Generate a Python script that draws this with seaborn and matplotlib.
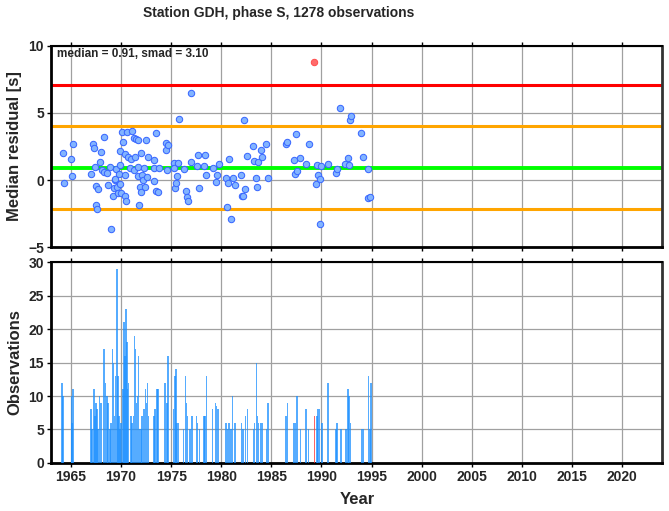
import numpy as np
import pandas as pd
import matplotlib
matplotlib.use('Agg')
import matplotlib.pyplot as plt
import seaborn as sns

# station summary
station = 'GDH'
phase = 'S'
n_obs = 1278
median = 0.91
smad = 3.10

# median residual per time bin (decimal year, seconds)
res_year = [1964.2, 1964.3, 1965.0, 1965.1, 1965.2, 1967.0, 1967.2, 1967.3, 1967.4, 1967.5,
            1967.5, 1967.55, 1967.7, 1967.9, 1968.0, 1968.1, 1968.3, 1968.3, 1968.6, 1968.7,
            1968.9, 1969.0, 1969.2, 1969.3, 1969.4, 1969.4, 1969.5, 1969.6, 1969.7, 1969.8,
            1969.9, 1969.9, 1969.9, 1970.0, 1970.1, 1970.2, 1970.4, 1970.4, 1970.4, 1970.5,
            1970.6, 1970.7, 1970.9, 1971.0, 1971.1, 1971.3, 1971.3, 1971.4, 1971.5, 1971.7,
            1971.7, 1971.7, 1971.8, 1971.9, 1972.0, 1972.0, 1972.1, 1972.2, 1972.3, 1972.4,
            1972.5, 1972.6, 1972.7, 1973.3, 1973.3, 1973.3, 1973.5, 1973.5, 1973.7, 1973.8,
            1974.5, 1974.5, 1974.6, 1974.7, 1975.3, 1975.3, 1975.4, 1975.5, 1975.6, 1975.7,
            1975.8, 1976.3, 1976.5, 1976.6, 1976.7, 1977.0, 1977.0, 1977.6, 1977.7, 1977.8,
            1978.3, 1978.4, 1978.5, 1979.2, 1979.5, 1979.6, 1979.8, 1980.5, 1980.6, 1980.7,
            1980.8, 1981.0, 1981.2, 1981.4, 1982.0, 1982.1, 1982.2, 1982.3, 1982.4, 1982.6,
            1983.2, 1983.3, 1983.5, 1983.6, 1983.7, 1984.0, 1984.1, 1984.5, 1984.7, 1986.5,
            1986.6, 1987.3, 1987.4, 1987.5, 1987.6, 1987.9, 1988.5, 1988.8, 1989.3, 1989.5,
            1989.6, 1989.7, 1989.9, 1989.9, 1990.0, 1990.7, 1991.5, 1991.6, 1991.9, 1992.4,
            1992.7, 1992.8, 1992.9, 1993.0, 1994.0, 1994.2, 1994.7, 1994.7, 1994.9]
res_value = [2.0, -0.2, 1.6, 0.3, 2.7, 0.45, 2.7, 2.4, 0.95, -0.42,
             -1.9, -2.15, -0.67, 1.37, 2.06, 0.75, 3.2, 0.62, 0.52, -0.37,
             0.97, -3.63, -1.17, -0.57, 0.0, 0.07, 0.8, -0.5, -1.0, 0.45,
             -0.28, 1.14, 2.19, -1.0, 3.6, 2.86, 1.92, 0.4, -1.2, -1.6,
             3.56, 1.69, 0.87, 1.59, 3.68, 3.16, 0.72, 1.74, 3.04, 2.99,
             0.99, 0.28, -1.84, -0.52, 2.04, -0.87, 0.4, 0.0, 0.9, -0.5,
             2.99, 0.2, 1.74, 1.49, 0.92, -0.07, 3.53, -0.84, -0.87, 0.92,
             2.76, 2.21, 0.72, 2.61, 1.29, 0.92, -0.62, -0.25, 0.32, 1.29,
             4.53, 0.84, -0.8, -1.24, -1.57, 1.34, 6.51, 1.02, 1.84, -0.62,
             1.04, 1.84, 0.37, 0.92, -0.17, 0.37, 1.19, 0.17, -2.04, -0.22,
             1.59, -2.91, 0.17, -0.37, 0.37, -1.22, -1.17, 4.48, -0.7, 1.81,
             2.56, 1.42, 0.13, -0.5, 1.37, 2.21, 1.74, 2.71, 0.17, 2.66,
             2.81, 1.47, 0.47, 3.43, 0.69, 1.66, 1.22, 2.66, 8.81, -0.3,
             1.14, 0.4, 0.07, -3.28, 1.07, 1.22, 0.54, 0.84, 5.37, 1.19,
             1.64, 1.14, 4.46, 4.78, 3.53, 1.74, 0.84, -1.34, -1.24]

# number of observations per time bin
obs_year = [1964.13, 1964.23, 1965.03, 1965.1, 1965.17, 1966.97, 1967.07, 1967.3, 1967.4, 1967.5,
            1967.6, 1967.7, 1967.83, 1968.0, 1968.3, 1968.43, 1968.57, 1968.67, 1968.9, 1969.0,
            1969.13, 1969.23, 1969.33, 1969.43, 1969.57, 1969.67, 1969.77, 1969.9, 1970.0, 1970.17,
            1970.27, 1970.37, 1970.47, 1970.57, 1970.63, 1970.73, 1970.97, 1971.1, 1971.23, 1971.33,
            1971.43, 1971.53, 1971.63, 1971.73, 1971.83, 1971.97, 1972.07, 1972.23, 1972.33, 1972.43,
            1972.53, 1972.63, 1972.73, 1973.3, 1973.4, 1973.57, 1973.67, 1974.37, 1974.57, 1974.67,
            1975.23, 1975.37, 1975.47, 1975.57, 1975.73, 1976.23, 1976.43, 1976.53, 1976.63, 1976.87,
            1977.07, 1977.53, 1977.63, 1977.83, 1978.27, 1978.4, 1978.53, 1979.13, 1979.43, 1979.53,
            1979.67, 1980.47, 1980.63, 1980.77, 1981.0, 1981.13, 1981.4, 1982.03, 1982.17, 1982.43,
            1982.63, 1983.2, 1983.33, 1983.53, 1983.63, 1983.73, 1983.97, 1984.13, 1984.5, 1984.67,
            1986.47, 1986.6, 1987.27, 1987.43, 1987.57, 1987.93, 1988.47, 1988.73, 1989.3, 1989.53,
            1989.67, 1989.8, 1990.07, 1990.67, 1991.43, 1991.57, 1991.93, 1992.47, 1992.67, 1992.77,
            1992.9, 1994.03, 1994.2, 1994.7, 1994.83, 1994.97]
obs_count = [12, 10, 10, 6, 11, 8, 5, 11, 7, 9,
             8, 5, 10, 9, 17, 12, 10, 9, 5, 6,
             17, 15, 7, 13, 29, 13, 7, 5, 6, 11,
             21, 16, 23, 18, 11, 12, 7, 6, 7, 19,
             17, 9, 10, 16, 5, 5, 7, 8, 8, 11,
             9, 12, 7, 7, 8, 11, 11, 12, 9, 16,
             8, 13, 14, 6, 6, 5, 13, 9, 7, 5,
             7, 7, 6, 5, 7, 7, 13, 8, 9, 8.5,
             8, 6, 5, 6, 5, 10, 6, 6, 5, 7,
             8, 5, 6, 15, 7, 6, 6, 6, 5, 9,
             7, 9, 6, 6, 10, 5, 8, 5, 7, 7,
             8, 8, 6, 12, 5, 6, 5, 5, 11, 10,
             6, 5, 5, 13, 5, 12]

res = pd.DataFrame({'year': res_year, 'residual': res_value})
res['outlier'] = res['residual'] > median + 2 * smad
obs = pd.DataFrame({'year': obs_year, 'count': obs_count})

sns.set_theme(style='ticks')
plt.rcParams['font.family'] = ['Liberation Sans', 'DejaVu Sans']
plt.rcParams['font.weight'] = 'bold'
plt.rcParams['axes.labelweight'] = 'bold'

fig = plt.figure(figsize=(6.69, 5.11), dpi=100)
ax1 = fig.add_axes([0.0762, 0.5166, 0.9133, 0.3934])
ax2 = fig.add_axes([0.0762, 0.094, 0.9133, 0.393])

xticks = np.arange(1965, 2021, 5)
for ax in (ax1, ax2):
    ax.set_xlim(1963, 2024)
    ax.set_xticks(xticks)
    ax.grid(True, color='#a0a0a0', lw=0.9)
    ax.set_axisbelow(True)
    ax.tick_params(axis='both', direction='out', length=3, width=1, labelsize=10,
                   top=True, bottom=True, color='black', pad=2)
    for side in ['left', 'bottom']:
        ax.spines[side].set_linewidth(2)
        ax.spines[side].set_color('black')
    ax.spines['top'].set_linewidth(1.5)
    ax.spines['top'].set_color('black')
    ax.spines['right'].set_linewidth(2)
    ax.spines['right'].set_color('#333333')

# residual panel
ax1.axhline(median + 2 * smad, color='#ff0000', lw=2.2, zorder=2)
ax1.axhline(median + smad, color='#ffa500', lw=2.2, zorder=2)
ax1.axhline(median - smad, color='#ffa500', lw=2.2, zorder=2)
ax1.axhline(median, color='#00ff00', lw=2.8, zorder=2)
sns.scatterplot(data=res[~res['outlier']], x='year', y='residual', ax=ax1, s=21,
                color='#82b4ff', edgecolor='#3a68ff', linewidth=0.75, zorder=3)
sns.scatterplot(data=res[res['outlier']], x='year', y='residual', ax=ax1, s=21,
                color='#ff6b6b', edgecolor='#ff5050', linewidth=0.75, zorder=3)
ax1.set_ylim(-5, 10)
ax1.set_yticks([-5, 0, 5, 10])
ax1.set_xticklabels([])
ax1.set_xlabel('')
ax1.set_ylabel('Median residual [s]', fontsize=12)
ax1.yaxis.set_label_coords(-0.047, 0.5)
ax1.text(0.0098, 0.96, 'median = {:.2f}, smad = {:.2f}'.format(median, smad),
         transform=ax1.transAxes, fontsize=8.5, fontweight='bold', va='center', ha='left')

# observation count panel
outlier_years = set(res.loc[res['outlier'], 'year'])
bar_colors = ['#ff3030' if y in outlier_years else '#1e90ff' for y in obs['year']]
ax2.bar(obs['year'], obs['count'], width=0.16, color=bar_colors, alpha=0.75,
        linewidth=0, zorder=3)
ax2.set_ylim(0, 30)
ax2.set_yticks(np.arange(0, 31, 5))
ax2.set_ylabel('Observations', fontsize=12)
ax2.yaxis.set_label_coords(-0.047, 0.5)
ax2.set_xlabel('Year', fontsize=12)
ax2.xaxis.set_label_coords(0.502, -0.145)

fig.text(0.417, 0.975, 'Station {}, phase {}, {} observations'.format(station, phase, n_obs),
         ha='center', va='center', fontsize=10, fontweight='bold')

fig.savefig('out.png', dpi=100)
